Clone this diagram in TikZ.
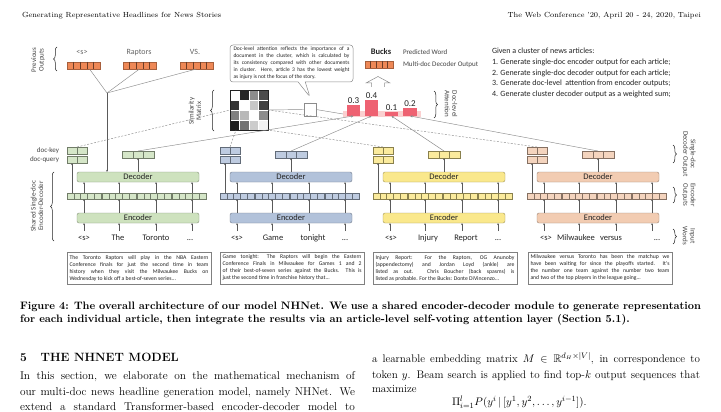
\documentclass[tikz,border=0pt]{standalone}
\usepackage{amsmath,amssymb}
\usepackage{fontspec}
\newfontfamily\figfont{Carlito}
\usetikzlibrary{decorations.pathreplacing,arrows.meta,shapes.callouts}
\definecolor{gcol}{RGB}{206,226,190}
\definecolor{bcol}{RGB}{178,194,218}
\definecolor{ycol}{RGB}{250,232,140}
\definecolor{pcol}{RGB}{242,204,178}
\definecolor{ocol}{RGB}{238,136,86}
\definecolor{barc}{RGB}{238,98,114}
\definecolor{barbg}{RGB}{251,208,208}
\definecolor{linec}{RGB}{140,140,140}
\definecolor{txt}{RGB}{35,35,35}
\newcommand\myfs[1]{\fontsize{#1}{#1}\selectfont}
\begin{document}
\begin{tikzpicture}[x=1pt,y=-1pt,
  every node/.style={inner sep=0pt, outer sep=0pt},
  lab/.style={font=\figfont\fontsize{7}{7.6}\selectfont, text=txt!85, align=center},
  word/.style={font=\figfont\myfs{8.5}, text=txt, anchor=base},
  conn/.style={draw=linec, line width=0.45pt},
  dconn/.style={draw=linec, line width=0.45pt, dash pattern=on 2pt off 1.5pt},
  uparr/.style={draw=txt!75, line width=0.4pt, -{Stealth[length=2.2pt,width=1.8pt]}},
  tipar/.style={-{Stealth[length=2.6pt,width=2.2pt]}},
  brc/.style={draw=txt, line width=0.5pt, decorate, decoration={brace, amplitude=3.5pt}},
  modbox/.style={draw=#1!65!black, fill=#1, rounded corners=2pt, line width=0.4pt, minimum width=122pt, minimum height=10pt, font=\figfont\myfs{8.5}, text=txt},
  cellrow/.style={draw=#1!55!black, fill=#1!85, line width=0.35pt},
  artbox/.style={draw=gray, fill=white, line width=0.5pt, minimum width=144pt, minimum height=32pt, align=left, font=\figfont\fontsize{5.7}{7}\selectfont, text=txt},
  body/.style={anchor=base west, font=\myfs{11.3}},
]
\useasboundingbox (0,0) rectangle (721,412);
\fill[white] (0,0) rectangle (721,412);

% ---------- running heads ----------
\node[anchor=base west, font=\myfs{7.4}] (hl) at (22,18) {Generating Representative Headlines for News Stories};
\node[anchor=base east, font=\myfs{7.4}] (hr) at (701,18) {The Web Conference '20, April 20 - 24, 2020, Taipei};

% ---------- input words ----------
\node[word] (w11) at (84,240) {<s>};
\node[word] (w12) at (118,240) {The};
\node[word] (w13) at (156,240) {Toronto};
\node[word] (w14) at (190,240) {...};
\node[word] (w21) at (237,240) {<s>};
\node[word] (w22) at (273,240) {Game};
\node[word] (w23) at (313,240) {tonight};
\node[word] (w24) at (345,240) {...};
\node[word] (w31) at (391,240) {<s>};
\node[word] (w32) at (428,240) {Injury};
\node[word] (w33) at (466,240) {Report};
\node[word] (w34) at (498,240) {...};
\node[word] (w41) at (546,240) {<s>};
\node[word] (w42) at (576,240) {Milwaukee};
\node[word] (w43) at (611,240) {versus};
\node[word] (w44) at (657,240) {...};
\coordinate (wt) at (0,231);

% ---------- four encoder-decoder columns ----------
\foreach \i/\cx/\cf in {1/77/gcol,2/230/bcol,3/383/ycol,4/537/pcol}{
  \node[modbox=\cf, anchor=north west] (dec\i) at (\cx,172) {Decoder};
  \node[modbox=\cf, anchor=north west] (enc\i) at (\cx,213) {Encoder};
  \coordinate (rowt\i) at (\cx,193);
  \coordinate (rowb\i) at (\cx,199);
  \foreach \j in {0,1,2,3}{
    \node[cellrow=\cf, minimum width=34pt, minimum height=6pt, anchor=north west] (eo\i\j) at (\cx-10+35*\j,193) {};
    \foreach \k in {1,2,3,4}
      \draw[\cf!55!black, line width=0.3pt] ([xshift={6.8*\k}]eo\i\j.north west) -- ([xshift={6.8*\k}]eo\i\j.south west);
  }
  \node[cellrow=\cf, minimum width=32pt, minimum height=7pt, anchor=north west] (do\i) at (\cx+45,151) {};
  \draw[\cf!55!black, line width=0.3pt] ([xshift=10.7pt]do\i.north west) -- ([xshift=10.7pt]do\i.south west)
       ([xshift=21.3pt]do\i.north west) -- ([xshift=21.3pt]do\i.south west);
  \node[cellrow=\cf, minimum width=20pt, minimum height=7pt, anchor=north west] (kk\i) at (\cx-10,147) {};
  \node[cellrow=\cf, minimum width=20pt, minimum height=7pt, anchor=north west] (kq\i) at (\cx-10,156) {};
  \draw[\cf!55!black, line width=0.3pt] (kk\i.north) -- (kk\i.south) (kq\i.north) -- (kq\i.south);
  \coordinate (kx\i) at (\cx-5,0);
  \draw[uparr] (rowt\i -| kx\i) -- (kq\i.south -| kx\i);
  \draw[uparr] (dec\i.north -| do\i) -- (do\i.south);
  \foreach \n/\off in {1/7,2/42,3/79,4/115}{
    \coordinate (a\i\n) at (\cx+\off,0);
    \draw[uparr] (enc\i.north -| a\i\n) -- (rowb\i -| a\i\n);
    \draw[uparr] (rowt\i -| a\i\n) -- (dec\i.south -| a\i\n);
    \draw[uparr] (wt -| a\i\n) -- (enc\i.south -| a\i\n);
  }
}
\node[lab, anchor=east] (ldk) at (59,151) {doc-key};
\node[lab, anchor=east] (ldq) at (59,160) {doc-query};

% ---------- previous outputs ----------
\node[font=\figfont\myfs{8}, text=txt!70, anchor=base] (pw1) at (82,55) {<s>};
\node[font=\figfont\myfs{8}, text=txt!70, anchor=base] (pw2) at (139,55) {Raptors};
\node[font=\figfont\myfs{8}, text=txt!70, anchor=base] (pw3) at (195,55) {VS.};
\foreach \p/\px in {1/67,2/123,3/180}{
  \node[draw=ocol!70!black, fill=ocol, line width=0.4pt, minimum width=33pt, minimum height=7pt, anchor=north west] (po\p) at (\px,62) {};
  \foreach \k in {1,2,3,4}
    \draw[ocol!45!black, line width=0.3pt] ([xshift={6.6*\k}]po\p.north west) -- ([xshift={6.6*\k}]po\p.south west);
}
\coordinate (pc) at (107,93);
\draw[conn] ([xshift=6pt]po1.south) -- (pc);
\draw[conn] (po2.south) -- (pc);
\draw[conn] (po3.south) -- (pc);
\draw[uparr] (pc) -- (dec1.north -| pc);
\draw[brc] (57,71) -- (57,47);
\node[lab, rotate=90] (lprev) at (38,60) {Previous\\Outputs};

% ---------- similarity matrix ----------
\node[minimum width=38pt, minimum height=40pt, anchor=north west] (sim) at (230,90) {};
\foreach \r/\c/\v in {0/0/0,0/1/85,0/2/45,0/3/70,
                      1/0/80,1/1/0,1/2/22,1/3/75,
                      2/0/50,2/1/28,2/2/0,2/3/45,
                      3/0/88,3/1/55,3/2/20,3/3/5}
  \fill[black!\v] (230+9.5*\c,90+10*\r) rectangle ++(9.5,10);
\draw[white, line width=0.4pt] (239.5,90) -- (239.5,130) (249,90) -- (249,130) (258.5,90) -- (258.5,130)
  (230,100) -- (268,100) (230,110) -- (268,110) (230,120) -- (268,120);
\draw[txt, line width=0.4pt] (sim.north west) rectangle (sim.south east);
\draw[brc] (214,131) -- (214,90);
\node[lab, rotate=90] (lsim) at (195,111) {Similarity\\Matrix};
\draw[dconn] (kk1.north) -- (sim.west);
\draw[dconn] (kk2.north) -- ([xshift=6pt]sim.south west);
\draw[dconn] (kk3.north) -- (sim.south east);
\draw[dconn] (kk4.north) -- (sim.east);

% ---------- doc-level attention ----------
\node[fill=barbg, minimum width=78pt, minimum height=6pt, anchor=north west] (strip) at (343,111) {};
\node[fill=barc, minimum width=13pt, minimum height=11pt, anchor=south west] (bar1) at (347,116) {};
\node[fill=barc, minimum width=13pt, minimum height=16pt, anchor=south west] (bar2) at (365,116) {};
\node[fill=barc, minimum width=13pt, minimum height=4pt, anchor=south west] (bar3) at (385,116) {};
\node[fill=barc, minimum width=14pt, minimum height=8pt, anchor=south west] (bar4) at (403,116) {};
\node[font=\figfont\myfs{9}, text=txt, anchor=south] (v1) at ([yshift=1.5pt]bar1.north) {0.3};
\node[font=\figfont\myfs{9}, text=txt, anchor=south] (v2) at ([yshift=1.5pt]bar2.north) {0.4};
\node[font=\figfont\myfs{9}, text=txt, anchor=south] (v3) at ([yshift=1.5pt]bar3.north) {0.1};
\node[font=\figfont\myfs{9}, text=txt, anchor=south] (v4) at ([yshift=1.5pt]bar4.north) {0.2};
\draw[brc] (434,91) -- (434,118);
\node[lab, rotate=-90] (latt) at (451,104) {Doc-level\\Attention};
\draw[conn, tipar] (do1.north) -- (bar1.south);
\draw[conn, tipar] (do2.north) -- (bar2.south);
\draw[conn, tipar] (do3.north) -- (bar3.south);
\draw[conn, tipar] (do4.north) -- (bar4.south);

% callout and small box
\node[draw=linec, line width=0.45pt, minimum width=12pt, minimum height=13pt, anchor=north west] (sm) at (304,103) {};
\draw[conn] (sim.east) -- (sm.west);
\draw[conn] (sm.east) -- (strip.west);
\node[rectangle callout, draw=linec, fill=white, rounded corners=3pt, line width=0.5pt,
      callout absolute pointer={(310,97)}, minimum width=123pt, minimum height=37pt,
      anchor=north west, align=center, font=\figfont\fontsize{5.5}{7}\selectfont, text=txt] (call) at (230,45)
 {\makebox[116pt][s]{Doc-level attention reflects the importance of a}\\
  \makebox[116pt][s]{document in the cluster, which is calculated by}\\
  \makebox[116pt][s]{its consistency compared with other documents}\\
  \makebox[116pt][s]{in cluster. Here, article 3 has the lowest weight}\\
  \makebox[116pt][l]{as injury is not the focus of the story.}};

% predicted word
\node[font=\figfont\bfseries\myfs{8.5}, text=txt] (bucks) at (381,52) {Bucks};
\node[lab, anchor=west] (pwl) at (403,52) {Predicted Word};
\node[draw=ocol!70!black, fill=ocol, line width=0.4pt, minimum width=28pt, minimum height=7pt, anchor=north west] (mo) at (365,61) {};
\foreach \k in {1,2,3,4}
  \draw[ocol!45!black, line width=0.3pt] ([xshift={5.6*\k}]mo.north west) -- ([xshift={5.6*\k}]mo.south west);
\node[lab, anchor=west] (mdl) at (403,65) {Multi-doc Decoder Output};
\draw[linec, line width=0.5pt, fill=white] (371.5,87) -- (371.5,83) -- (366,83) -- (378,76.5) -- (390,83) -- (384.5,83) -- (384.5,87);

% steps
\node[font=\figfont\myfs{8}, text=txt, anchor=base west] (g0) at (492,54) {Given a cluster of news articles:};
\node[font=\figfont\myfs{8}, text=txt, anchor=base west] (g1) at (492,65) {1. Generate single-doc encoder output for each article;};
\node[font=\figfont\myfs{8}, text=txt, anchor=base west] (g2) at (492,76) {2. Generate single-doc decoder output for each article;};
\node[font=\figfont\myfs{8}, text=txt, anchor=base west] (g3) at (492,86) {3. Generate doc-level\ \ attention from encoder outputs;};
\node[font=\figfont\myfs{8}, text=txt, anchor=base west] (g4) at (492,96) {4. Generate cluster decoder output as a weighted sum;};

% side labels
\draw[brc] (54,241) -- (54,172);
\node[lab, rotate=90] (lshared) at (37,206) {Shared Single-doc\\Encoder-Decoder};
\draw[brc] (673,145) -- (673,163);
\node[lab, rotate=-90] (lsdo) at (689,154) {Single-doc\\Decoder Output};
\draw[brc] (673,187) -- (673,203);
\node[lab, rotate=-90] (leo) at (689,195) {Encoder\\Outputs};
\draw[brc] (673,229) -- (673,244);
\node[lab, rotate=-90] (liw) at (689,236) {Input\\Words};

% ---------- articles ----------
\foreach \ax in {67,220,373,528}
  \fill[black!22] (\ax+1.3,253.3) rectangle ++(144,32);
\node[artbox, anchor=north west] (art1) at (67,252)
 {\makebox[139pt][s]{The Toronto Raptors will play in the NBA Eastern}\\
  \makebox[139pt][s]{Conference finals for just the second time in team}\\
  \makebox[139pt][s]{history when they visit the Milwaukee Bucks on}\\
  \makebox[139pt][l]{Wednesday to kick off a best-of-seven series...}};
\node[artbox, anchor=north west] (art2) at (220,252)
 {\makebox[139pt][s]{Game tonight: The Raptors will begin the Eastern}\\
  \makebox[139pt][s]{Conference Finals in Milwaukee for Games 1 and 2}\\
  \makebox[139pt][s]{of their best-of-seven series against the Bucks. This is}\\
  \makebox[139pt][l]{just the second time in franchise history that...}};
\node[artbox, anchor=north west] (art3) at (373,252)
 {\makebox[139pt][s]{Injury Report: For the Raptors, OG Anunoby}\\
  \makebox[139pt][s]{(appendectomy) and Jordan Loyd (ankle) are}\\
  \makebox[139pt][s]{listed as out. Chris Boucher (back spasms) is}\\
  \makebox[139pt][l]{listed as probable. For the Bucks: Donte DiVincenzo...}};
\node[artbox, anchor=north west] (art4) at (528,252)
 {\makebox[139pt][s]{Milwaukee versus Toronto has been the matchup we}\\
  \makebox[139pt][s]{have been waiting for since the playoffs started. It's}\\
  \makebox[139pt][s]{the number one team against the number two team}\\
  \makebox[139pt][l]{and two of the top players in the league going...}};

% ---------- caption ----------
\node[anchor=base west, font=\bfseries\myfs{10.8}] (cap1) at (20,309)
 {\makebox[681pt][s]{Figure 4: The overall architecture of our model NHNet. We use a shared encoder-decoder module to generate representation}};
\node[anchor=base west, font=\bfseries\myfs{10.8}] (cap2) at (20,322)
 {for each individual article, then integrate the results via an article-level self-voting attention layer (Section 5.1).};

% ---------- body text ----------
\node[anchor=base west, font=\bfseries\myfs{12}] (sec) at (20,361) {5\hspace{14pt}THE NHNET MODEL};
\node[body] (b1) at (20,379) {\makebox[335pt][s]{In this section, we elaborate on the mathematical mechanism of}};
\node[body] (b2) at (20,395) {\makebox[335pt][s]{our multi-doc news headline generation model, namely NHNet. We}};
\node[body] (b3) at (20,410) {\makebox[335pt][s]{extend a standard Transformer-based encoder-decoder model to}};
\node[body, font=\myfs{11}] (r1) at (372,362) {\makebox[328pt][s]{a learnable embedding matrix $M \in \mathbb{R}^{d_H\times|V|}$, in correspondence to}};
\node[body, font=\myfs{11}] (r2) at (372,378) {\makebox[328pt][s]{token $y$. Beam search is applied to find top-$k$ output sequences that}};
\node[body, font=\myfs{11}] (r3) at (372,392) {maximize};
\node[body, font=\myfs{11}] (r4) at (452,405) {$\Pi_{i=1}^{l} P(y^i\,|\,[y^1, y^2, \ldots, y^{i-1}])$.};
\end{tikzpicture}
\end{document}
